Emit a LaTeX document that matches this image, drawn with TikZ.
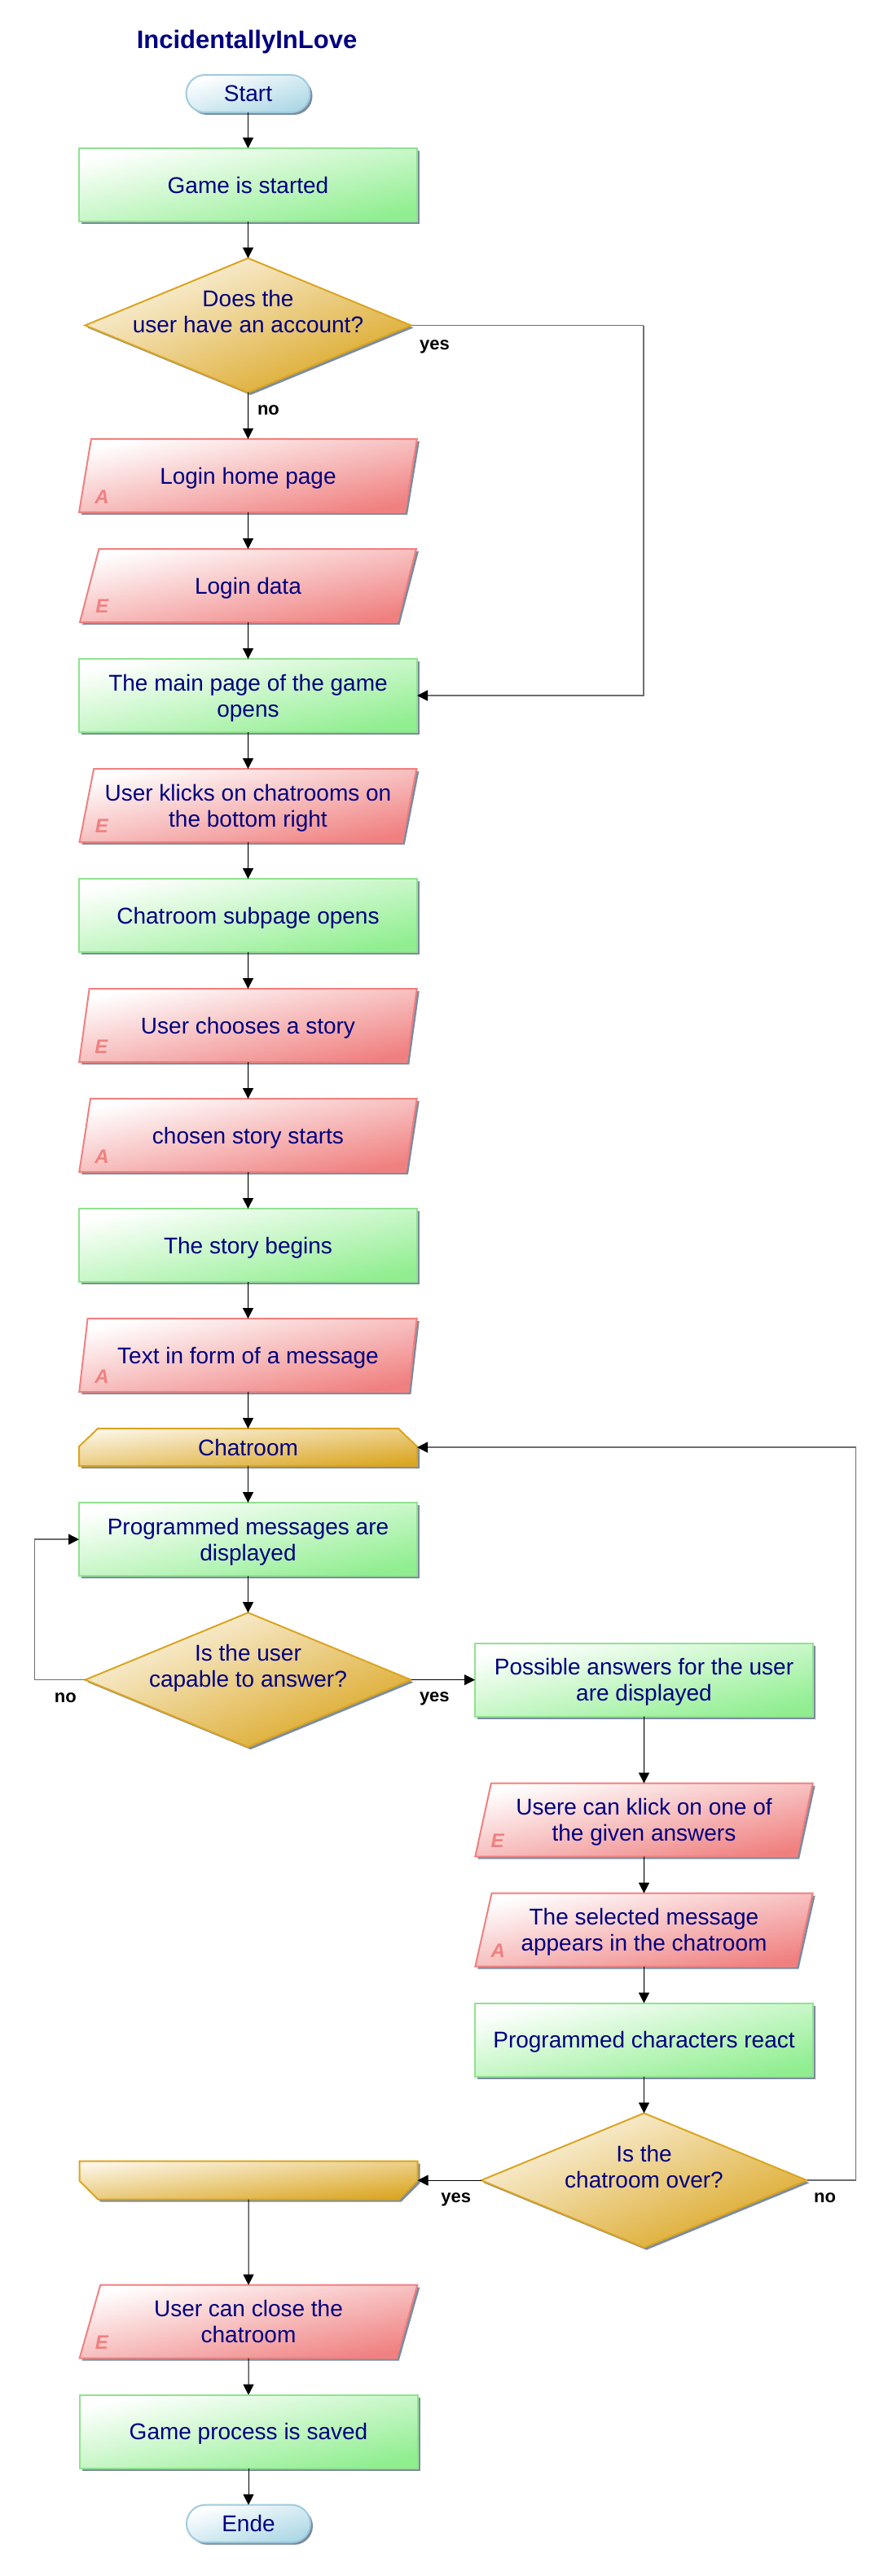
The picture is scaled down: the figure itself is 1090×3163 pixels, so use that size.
\documentclass[tikz,border=0pt]{standalone}
\usepackage{fontspec}
\setmainfont{Liberation Sans}
\usetikzlibrary{positioning, shapes.geometric, shadows, arrows.meta, backgrounds}

\definecolor{navytext}{RGB}{0,0,128}
\definecolor{procgreen}{RGB}{144,238,144}
\definecolor{procedge}{RGB}{144,226,144}
\definecolor{iored}{RGB}{240,128,128}
\definecolor{decgold}{RGB}{218,165,32}
\definecolor{deccream}{RGB}{252,246,232}
\definecolor{termblue}{RGB}{173,216,230}
\definecolor{termedge}{RGB}{158,204,222}
\definecolor{shadowgray}{RGB}{125,140,158}
\definecolor{loopgray}{RGB}{110,110,110}

\newcommand{\decisiontext}[1]{\raisebox{-4.5pt}[0pt][0pt]{\begin{tabular}[b]{@{}c@{}}#1\end{tabular}}}

\begin{document}
\begin{tikzpicture}[x=0.5pt, y=0.5pt, node distance=22.5pt, text=navytext, font=\fontsize{14}{16}\selectfont]
    % Block styles
    \tikzstyle{shapebase} = [draw, line width=1pt, outer sep=0pt, align=center, text depth=0pt, drop shadow={shadow xshift=1.5pt, shadow yshift=-1.5pt, fill=shadowgray, opacity=1}]
    \tikzstyle{terminal} = [shapebase, rectangle, rounded corners=11.5pt, draw=termedge, top color=white, bottom color=termblue, shading angle=17, minimum width=76pt, minimum height=23pt]
    \tikzstyle{process} = [shapebase, rectangle, draw=procedge, top color=white, bottom color=procgreen, shading angle=12, minimum width=207.5pt, minimum height=45pt]
    \tikzstyle{io} = [shapebase, trapezium, trapezium left angle=76, trapezium right angle=104, trapezium stretches, inner xsep=0pt, draw=iored, top color=white, bottom color=iored, shading angle=12, minimum width=207.5pt, minimum height=45pt]
    \tikzstyle{iomark} = [anchor=base west, xshift=6pt, yshift=5pt, text=iored, font=\fontsize{12}{12}\selectfont\bfseries\itshape]
    \tikzstyle{inputbox} = [io, label={[iomark]192:E}]
    \tikzstyle{outputbox} = [io, label={[iomark]192:A}]
    \tikzstyle{decision} = [shapebase, diamond, aspect=2.42, inner sep=0pt, draw=decgold, top color=deccream, bottom color=decgold, shading angle=22, minimum width=200pt, minimum height=82.5pt]
    \tikzstyle{loopbox} = [rectangle, outer sep=0pt, inner sep=0pt, text depth=0pt, minimum width=207.5pt, minimum height=23pt]
    \tikzstyle{loopshape} = [draw=decgold, line width=1pt, top color=deccream, bottom color=decgold, shading angle=6, drop shadow={shadow xshift=1.5pt, shadow yshift=-1.5pt, fill=shadowgray, opacity=1}]
    % Connector styles
    \tikzstyle{flow} = [draw=black, line width=0.5pt, -{Triangle[length=6.5pt, width=6.5pt]}]
    \tikzstyle{loopline} = [draw=loopgray, line width=0.7pt, -{Triangle[length=6.5pt, width=6.5pt, color=black]}]
    \tikzstyle{answer} = [font=\fontsize{11}{13}\selectfont\bfseries, text=black, inner sep=0pt]

    \useasboundingbox (0,0) rectangle (1090,-3163);

    % Main column
    \node[font=\fontsize{15.5}{18}\selectfont\bfseries] (title) at (303,-51) {IncidentallyInLove};
    \node[terminal] (start) at (304.5,-115) {Start};
    \node[process, below=22pt of start] (started) {Game is started};
    \node[decision, below=of started] (account) {\decisiontext{Does the\\user have an account?}};
    \node[outputbox, below=28.5pt of account] (loginhome) {Login home page};
    \node[inputbox, below=of loginhome] (logindata) {Login data};
    \node[process, below=of logindata] (mainpage) {The main page of the game\\opens};
    \node[inputbox, below=of mainpage] (klicks) {User klicks on chatrooms on\\the bottom right};
    \node[process, below=of klicks] (subpage) {Chatroom subpage opens};
    \node[inputbox, below=of subpage] (chooses) {User chooses a story};
    \node[outputbox, below=of chooses] (storystarts) {chosen story starts};
    \node[process, below=of storystarts] (begins) {The story begins};
    \node[outputbox, below=of begins] (textmsg) {Text in form of a message};
    \node[loopbox, below=of textmsg] (chatroom) {Chatroom};
    \node[process, below=of chatroom] (progmsg) {Programmed messages are\\displayed};
    \node[decision, below=of progmsg] (capable) {\decisiontext{Is the user\\capable to answer?}};
    % Answer column
    \node[process, right=39.25pt of capable] (answers) {Possible answers for the user\\are displayed};
    \node[inputbox, below=41pt of answers] (klickanswer) {Usere can klick on one of\\the given answers};
    \node[outputbox, below=of klickanswer] (selected) {The selected message\\appears in the chatroom};
    \node[process, below=of selected] (react) {Programmed characters react};
    \node[decision, below=of react] (over) {\decisiontext{Is the\\chatroom over?}};
    % End of the chat loop
    \node[loopbox, minimum height=23.5pt, left=39pt of over] (chatend) {};
    \node[inputbox, below=52.5pt of chatend] (closeroom) {User can close the\\chatroom};
    \node[process, below=of closeroom] (saved) {Game process is saved};
    \node[terminal, below=of saved] (ende) {Ende};

    % Loop limits
    \begin{scope}[on background layer]
        \path[loopshape] ([yshift=-11pt]chatroom.north west) -- ([xshift=11.5pt]chatroom.north west) -- ([xshift=-11.5pt]chatroom.north east) -- ([yshift=-11pt]chatroom.north east) -- (chatroom.south east) -- (chatroom.south west) -- cycle;
        \path[loopshape] (chatend.north west) -- (chatend.north east) -- ([yshift=11.5pt]chatend.south east) -- ([xshift=-11.5pt]chatend.south east) -- ([xshift=11.5pt]chatend.south west) -- ([yshift=11.5pt]chatend.south west) -- cycle;
    \end{scope}

    % Connections
    \draw[flow] (start) -- (started);
    \draw[flow] (started) -- (account);
    \draw[flow] (account) -- node[answer, pos=0, anchor=north west, xshift=5.5pt, yshift=-7.5pt] {no} (loginhome);
    \draw[flow] (loginhome) -- (logindata);
    \draw[flow] (logindata) -- (mainpage);
    \draw[flow] (mainpage) -- (klicks);
    \draw[flow] (klicks) -- (subpage);
    \draw[flow] (subpage) -- (chooses);
    \draw[flow] (chooses) -- (storystarts);
    \draw[flow] (storystarts) -- (begins);
    \draw[flow] (begins) -- (textmsg);
    \draw[flow] (textmsg) -- (chatroom);
    \draw[flow] (chatroom) -- (progmsg);
    \draw[flow] (progmsg) -- (capable);

    \draw[-, draw=loopgray, line width=0.7pt] (account.east) -- node[answer, pos=0, anchor=north west, xshift=5pt, yshift=-8.5pt] {yes} ++(285.5,0) coordinate (arrw_account);
    \draw[loopline] (arrw_account) |- (mainpage.east);

    \draw[-, draw=loopgray, line width=0.7pt] (capable.west) -- node[answer, pos=0, anchor=north east, xshift=-5pt, yshift=-7.5pt] {no} ++(-62,0) coordinate (arrw_capable);
    \draw[loopline] (arrw_capable) |- (progmsg.west);

    \draw[flow] (capable) -- node[answer, pos=0, anchor=north west, xshift=5pt, yshift=-7.5pt] {yes} (answers);
    \draw[flow] (answers) -- (klickanswer);
    \draw[flow] (klickanswer) -- (selected);
    \draw[flow] (selected) -- (react);
    \draw[flow] (react) -- (over);

    \draw[-, draw=loopgray, line width=0.7pt] (over.east) -- node[answer, pos=0, anchor=north west, xshift=4pt, yshift=-7.5pt] {no} ++(60,0) coordinate (arrw_over);
    \draw[loopline] (arrw_over) |- (chatroom.east);

    \draw[flow] (over) -- node[answer, pos=0, anchor=north east, xshift=-6pt, yshift=-7.5pt] {yes} (chatend);
    \draw[flow] (chatend) -- (closeroom);
    \draw[flow] (closeroom) -- (saved);
    \draw[flow] (saved) -- (ende);
\end{tikzpicture}
\end{document}
